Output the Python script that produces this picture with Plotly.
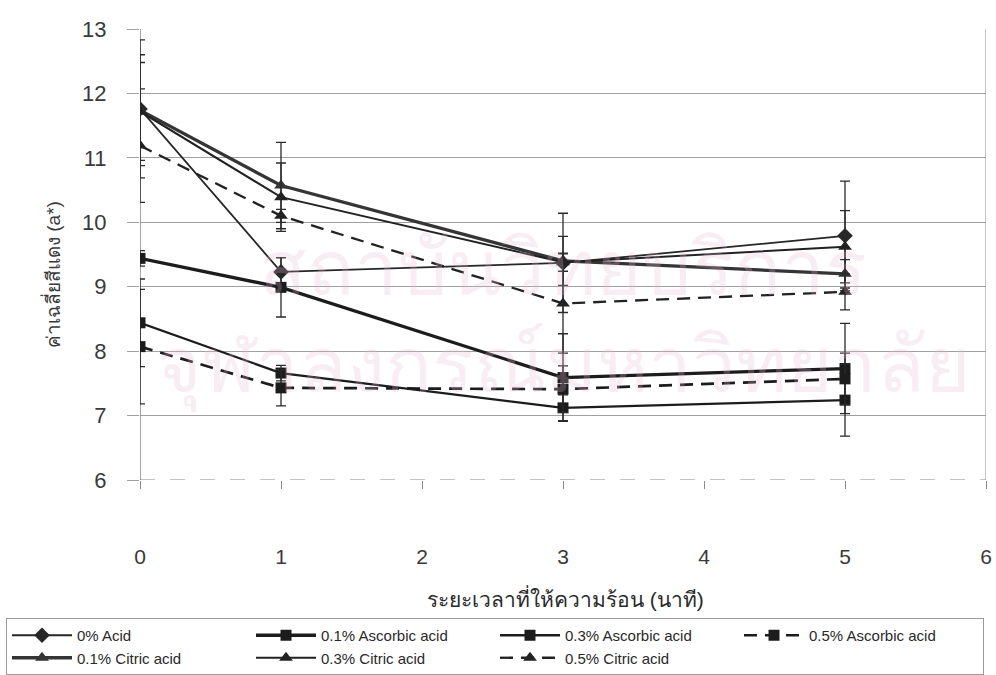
import plotly.graph_objects as go

# Heating time (minutes)
minutes = [0, 1, 3, 5]

# Mean redness (a*) and standard deviation per treatment
acid0 = [11.76, 9.23, 9.37, 9.79]
acid0_sd = [1.07, 0.22, 0.77, 0.85]

asc01 = [9.44, 8.99, 7.59, 7.73]
asc01_sd = [0.12, 0.46, 0.68, 0.70]

asc03 = [8.44, 7.66, 7.12, 7.24]
asc03_sd = [0.68, 0.12, 0.20, 0.56]

asc05 = [8.07, 7.43, 7.41, 7.57]
asc05_sd = [0.89, 0.28, 0.36, 0.40]

cit01 = [11.74, 10.57, 9.40, 9.20]
cit01_sd = [0.86, 0.67, 0.38, 0.22]

cit03 = [11.72, 10.39, 9.38, 9.62]
cit03_sd = [0.76, 0.53, 0.14, 0.56]

cit05 = [11.19, 10.10, 8.74, 8.92]
cit05_sd = [0.88, 0.10, 0.77, 0.28]

x_ticks = [0, 1, 2, 3, 4, 5, 6]
y_ticks = [6, 7, 8, 9, 10, 11, 12, 13]

x_title = "ระยะเวลาที่ให้ความร้อน (นาที)"
y_title = "ค่าเฉลี่ยสีแดง (a*)"
watermark_1 = "สถาบันวิทยบริการ"
watermark_2 = "จุฬาลงกรณ์มหาวิทยาลัย"

FONT = "Arial, 'Liberation Sans', 'Noto Sans', sans-serif"

series = [
    ("0% Acid", acid0, acid0_sd, "diamond", 1.8, "solid", "#262626", 12),
    ("0.1% Ascorbic acid", asc01, asc01_sd, "square", 3.3, "solid", "#1c1c1c", 11),
    ("0.3% Ascorbic acid", asc03, asc03_sd, "square", 2.3, "solid", "#1c1c1c", 11),
    ("0.5% Ascorbic acid", asc05, asc05_sd, "square", 2.7, "13px,8px", "#1c1c1c", 11),
    ("0.1% Citric acid", cit01, cit01_sd, "triangle-up", 3.3, "solid", "#353535", 12),
    ("0.3% Citric acid", cit03, cit03_sd, "triangle-up", 2.0, "solid", "#222222", 12),
    ("0.5% Citric acid", cit05, cit05_sd, "triangle-up", 2.3, "13px,8px", "#222222", 12),
]

fig = go.Figure()
for name, ys, sd, sym, lw, dash, col, ms in series:
    fig.add_trace(go.Scatter(
        x=minutes, y=ys, name=name, mode="lines+markers",
        line=dict(color=col, width=lw, dash=dash),
        marker=dict(symbol=sym, size=ms, color=col),
        error_y=dict(type="data", array=sd, visible=True,
                     color="#2a2a2a", thickness=1.3, width=5),
    ))

shapes = [
    # cover the gridline at the bottom so the axis can be dashed
    dict(type="line", xref="x", yref="y", x0=0, x1=6, y0=6, y1=6,
         line=dict(color="white", width=2), layer="between"),
    dict(type="line", xref="x", yref="y", x0=0, x1=6, y0=6, y1=6,
         line=dict(color="#8a8a8a", width=1.2, dash="longdash"), layer="between"),
    # y axis line at x = 0
    dict(type="line", xref="x", yref="y", x0=0, x1=0, y0=6, y1=13,
         line=dict(color="#6a6a6a", width=1.2), layer="between"),
    # right border of the plot area
    dict(type="line", xref="x", yref="y", x0=6, x1=6, y0=6, y1=13,
         line=dict(color="#9a9a9a", width=1.2), layer="between"),
]

WM = dict(family=FONT, size=78, color="rgba(230,185,212,0.25)")
annotations = [
    # faint watermark across the plot area
    dict(text=watermark_1, xref="paper", yref="paper",
         x=0.50, y=0.47, xanchor="center", yanchor="middle",
         showarrow=False, font=WM),
    dict(text=watermark_2, xref="paper", yref="paper",
         x=0.50, y=0.25, xanchor="center", yanchor="middle",
         showarrow=False, font=WM),
    # axis titles
    dict(text=x_title, xref="paper", yref="paper", x=0.5024, y=-0.2616,
         xanchor="center", yanchor="middle", showarrow=False,
         font=dict(family=FONT, size=21, color="#2a2a2a")),
    dict(text=y_title, xref="paper", yref="paper", x=-0.104, y=0.4545,
         xanchor="center", yanchor="middle", textangle=-90, showarrow=False,
         font=dict(family=FONT, size=19, color="#3a3a3a")),
]

fig.update_layout(
    width=996, height=675,
    margin=dict(l=140, r=10, t=29, b=195, autoexpand=False),
    paper_bgcolor="white", plot_bgcolor="white",
    font=dict(family=FONT, color="#333333"),
    shapes=shapes, annotations=annotations,
    showlegend=True,
    legend=dict(
        orientation="h", x=(6 - 140) / 846, xanchor="left",
        y=-(618 - 480) / 451, yanchor="top",
        entrywidth=169, entrywidthmode="pixels",
        bordercolor="#9a9a9a", borderwidth=1, bgcolor="white",
        font=dict(family=FONT, size=15, color="#2a2a2a"),
        itemwidth=60, traceorder="normal",
    ),
)

fig.update_xaxes(
    range=[0, 6], tickmode="array", tickvals=x_ticks,
    showgrid=False, zeroline=False, showline=False,
    ticks="outside", ticklen=8, tickcolor="#8a8a8a",
    ticklabelstandoff=50,
    tickfont=dict(family=FONT, size=21, color="#3a3a3a"),
)
fig.update_yaxes(
    range=[6, 13], tickmode="array", tickvals=y_ticks,
    showgrid=True, gridcolor="#a0a0a0", gridwidth=1,
    zeroline=False, showline=False,
    ticks="outside", ticklen=12, tickcolor="#a0a0a0",
    ticklabelstandoff=16,
    tickfont=dict(family=FONT, size=22, color="#3a3a3a"),
)

fig.write_html("out.html")
